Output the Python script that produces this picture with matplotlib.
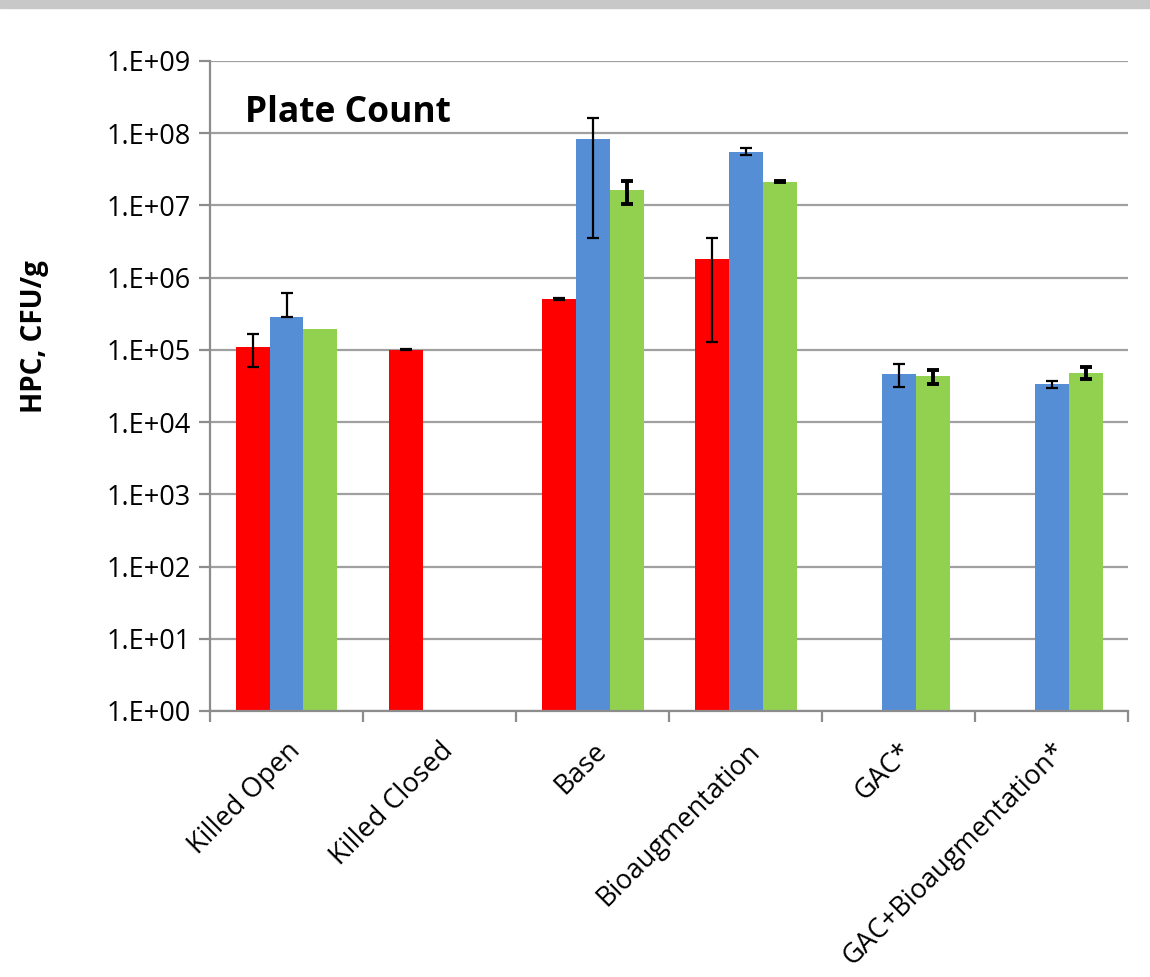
import numpy as np
import matplotlib.pyplot as plt
from matplotlib.patches import Rectangle

plt.rcParams['font.family'] = ['Open Sans', 'DejaVu Sans']

categories = ['Killed Open', 'Killed Closed', 'Base', 'Bioaugmentation',
              'GAC*', 'GAC+Bioaugmentation*']

# HPC counts (CFU/g) per treatment, three series
red = [1.1e5, 1.0e5, 5.05e5, 1.79e6, np.nan, np.nan]
blue = [2.85e5, np.nan, 8.2e7, 5.55e7, 4.7e4, 3.4e4]
green = [1.94e5, np.nan, 1.63e7, 2.13e7, 4.3e4, 4.8e4]

# error bars (minus / plus)
red_lo = [5.2e4, 1.5e3, 2.0e4, 1.66e6, np.nan, np.nan]
red_hi = [5.5e4, 1.5e3, 2.0e4, 1.7e6, np.nan, np.nan]
blue_lo = [0, np.nan, 7.85e7, 6.0e6, 1.6e4, 3.9e3]
blue_hi = [3.2e5, np.nan, 7.85e7, 7.0e6, 1.6e4, 3.6e3]
green_lo = [np.nan, np.nan, 5.8e6, 3.0e5, 9.0e3, 9.0e3]
green_hi = [np.nan, np.nan, 5.8e6, 3.0e5, 9.0e3, 9.5e3]

ytick_labels = ['1.E+00', '1.E+01', '1.E+02', '1.E+03', '1.E+04',
                '1.E+05', '1.E+06', '1.E+07', '1.E+08', '1.E+09']

fig = plt.figure(figsize=(11.5, 9.77), dpi=100)
fig.patches.append(Rectangle((0, 0.9918), 1, 0.0082, transform=fig.transFigure,
                             color='#c8c8c8', zorder=0))
ax = fig.add_axes([0.1826, 0.2723, 0.7984, 0.6653])

x = np.arange(len(categories))
w = 0.222
series = [(red, red_lo, red_hi, '#ff0000', 1.6),
          (blue, blue_lo, blue_hi, '#558ed5', 1.6),
          (green, green_lo, green_hi, '#92d050', 2.8)]
for i, (vals, lo, hi, col, elw) in enumerate(series):
    pos = x + (i - 1) * w
    ax.bar(pos, vals, width=w, color=col, zorder=2)
    ax.errorbar(pos, vals, yerr=[lo, hi], fmt='none', ecolor='black',
                elinewidth=elw, capsize=4.6, capthick=elw, zorder=3)

ax.set_yscale('log')
ax.set_ylim(1, 1e9)
ax.set_xlim(-0.5, len(categories) - 0.5)
ax.set_yticks([10.0 ** k for k in range(10)])
ax.set_yticklabels(ytick_labels, fontsize=19.5)
ax.yaxis.set_minor_locator(plt.NullLocator())
ax.grid(axis='y', color='#a0a0a0', linewidth=1.6, zorder=0)

ax.set_xticks(x)
ax.set_xticklabels(categories, rotation=45, ha='right', va='top',
                   rotation_mode='anchor', fontsize=19.5)
ax.set_xticks(np.arange(-0.5, len(categories)), minor=True)
ax.tick_params(axis='x', which='major', length=0, pad=19)
ax.tick_params(axis='x', which='minor', length=8, width=1.6, color='#8c8c8c')
ax.tick_params(axis='y', length=8, width=1.6, color='#8c8c8c', pad=6)

for s in ['top', 'right']:
    ax.spines[s].set_visible(False)
for s in ['left', 'bottom']:
    ax.spines[s].set_color('#8c8c8c')
    ax.spines[s].set_linewidth(1.6)

fig.text(35 / 1150, 1 - 337 / 977, 'HPC, CFU/g', rotation=90, fontsize=20,
         fontweight='bold', ha='center', va='center')
ax.text(0.038, 0.906, 'Plate Count', transform=ax.transAxes, fontsize=25.5,
        fontweight='bold', va='baseline', ha='left')

fig.savefig('out.png', dpi=100)
